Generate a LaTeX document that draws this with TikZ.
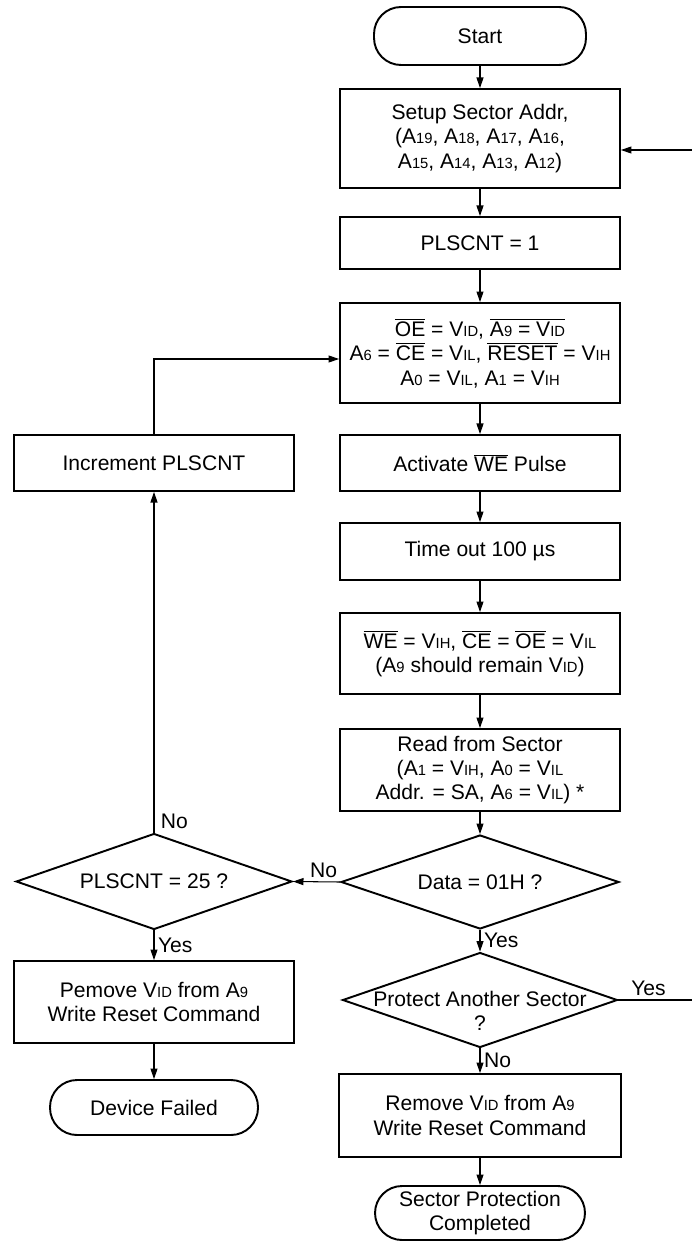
\documentclass[tikz,border=0pt]{standalone}
\usepackage{fontspec}
\setmainfont{Liberation Sans}
\usetikzlibrary{shapes.geometric,arrows.meta,positioning,calc}

\newcommand{\sbs}[1]{{\fontsize{8.4}{8.4}\selectfont #1}}
\newcommand{\ovl}[1]{\ensuremath{\overline{\mbox{#1}}}}

\begin{document}
\begin{tikzpicture}[x=0.02cm, y=-0.02cm,
  every node/.style={font=\fontsize{12}{13.9}\selectfont},
  box/.style={draw, line width=1.1pt, minimum width=5.6cm, align=center, inner sep=0pt},
  term/.style={draw, line width=1.1pt, rounded corners=0.54cm, align=center, inner sep=0pt},
  decision/.style={draw, line width=1.1pt, diamond, inner sep=0pt},
  flow/.style={line width=0.6pt, -{Triangle[length=6pt,width=4pt]}},
  tag/.style={inner sep=2pt}
]

\useasboundingbox (0,0) rectangle (691,1243);

% =========================
% MAIN COLUMN
% =========================

% Start
\node[term, minimum width=4.24cm, minimum height=1.16cm] (start) at (480,36) {Start};

% Sector address
\node[box, minimum height=1.98cm] (setup) at (480,138.5)
  {Setup Sector Addr,\\(A\sbs{19}, A\sbs{18}, A\sbs{17}, A\sbs{16},\\A\sbs{15}, A\sbs{14}, A\sbs{13}, A\sbs{12})};

% Counter
\node[box, minimum height=1.04cm] (cnt1) at (480,243) {PLSCNT = 1};

% Pin levels
\node[box, minimum height=2cm] (oe) at (480,353)
  {\ovl{OE} = V\sbs{ID}, \ovl{A\sbs{9} = V\sbs{ID}}\\
   A\sbs{6} = \ovl{CE} = V\sbs{IL}, \ovl{RESET} = V\sbs{IH}\\
   A\sbs{0} = V\sbs{IL}, A\sbs{1} = V\sbs{IH}};

% Pulse
\node[box, minimum height=1.12cm] (act) at (480,463) {Activate \ovl{WE} Pulse};

% Wait
\node[box, minimum height=1.14cm] (tout) at (480,551.5) {Time out 100 µs};

% Release
\node[box, minimum height=1.62cm] (we) at (480,653.5)
  {\ovl{WE} = V\sbs{IH}, \ovl{CE} = \ovl{OE} = V\sbs{IL}\\(A\sbs{9} should remain V\sbs{ID})};

% Verify
\node[box, minimum height=1.64cm] (read) at (480,770)
  {Read from Sector\\(A\sbs{1} = V\sbs{IH}, A\sbs{0} = V\sbs{IL}\\Addr. = SA, A\sbs{6} = V\sbs{IL}) *};

% Check data
\node[decision, minimum width=5.56cm, minimum height=1.88cm,
      label={center:Data = 01H ?}] (data) at (480,882) {};

% Next sector
\node[decision, minimum width=5.5cm, minimum height=1.9cm,
      label={[align=center, yshift=-0.22cm]center:Protect Another Sector\\?}] (prot) at (480,1000) {};

% Finish
\node[box, minimum width=5.64cm, minimum height=1.66cm] (remove) at (480,1115.5)
  {Remove V\sbs{ID} from A\sbs{9}\\Write Reset Command};

\node[term, minimum width=4.2cm, minimum height=1.08cm] (done) at (480,1213)
  {Sector Protection\\Completed};

% =========================
% LEFT COLUMN
% =========================

\node[box, minimum height=1.12cm] (inc) at (154,463) {Increment PLSCNT};

\node[decision, minimum width=5.52cm, minimum height=1.92cm,
      label={center:PLSCNT = 25 ?}] (cnt25) at (154,881.5) {};

\node[box, minimum height=1.64cm] (pemove) at (154,1002)
  {Pemove V\sbs{ID} from A\sbs{9}\\Write Reset Command};

\node[term, minimum width=4.16cm, minimum height=1.1cm] (failed) at (154,1107.5) {Device Failed};

% =========================
% CONNECTORS
% =========================

\foreach \a/\b in {start/setup, setup/cnt1, cnt1/oe, oe/act, act/tout, tout/we, we/read,
                   read/data, remove/done, pemove/failed}
  \draw[flow] (\a) -- (\b);

% Data check
\draw[flow] (data.west) -- node[above, pos=0.35, tag] {No} (cnt25.east);
\draw[flow] (data.south) -- node[right, tag] {Yes} (prot.north);

% Another sector
\draw[flow] (prot.south) -- node[right, tag] {No} (remove.north);
\coordinate (back) at (696,150);
\draw[flow] (prot.east) -- (prot.east -| back) -- (back) -- (setup.east |- back);
\node[anchor=south west, tag, xshift=0.18cm] (yes3) at (prot.east) {Yes};

% Retry loop
\draw[flow] (cnt25.north) -- (inc.south);
\node[anchor=south west, tag, xshift=0.06cm] (no2) at (cnt25.north) {No};
\draw[flow] (inc.north) |- ($(oe.west)+(0,6)$);

% Fail
\draw[flow] (cnt25.south) -- node[right, tag] {Yes} (pemove.north);

\end{tikzpicture}
\end{document}
